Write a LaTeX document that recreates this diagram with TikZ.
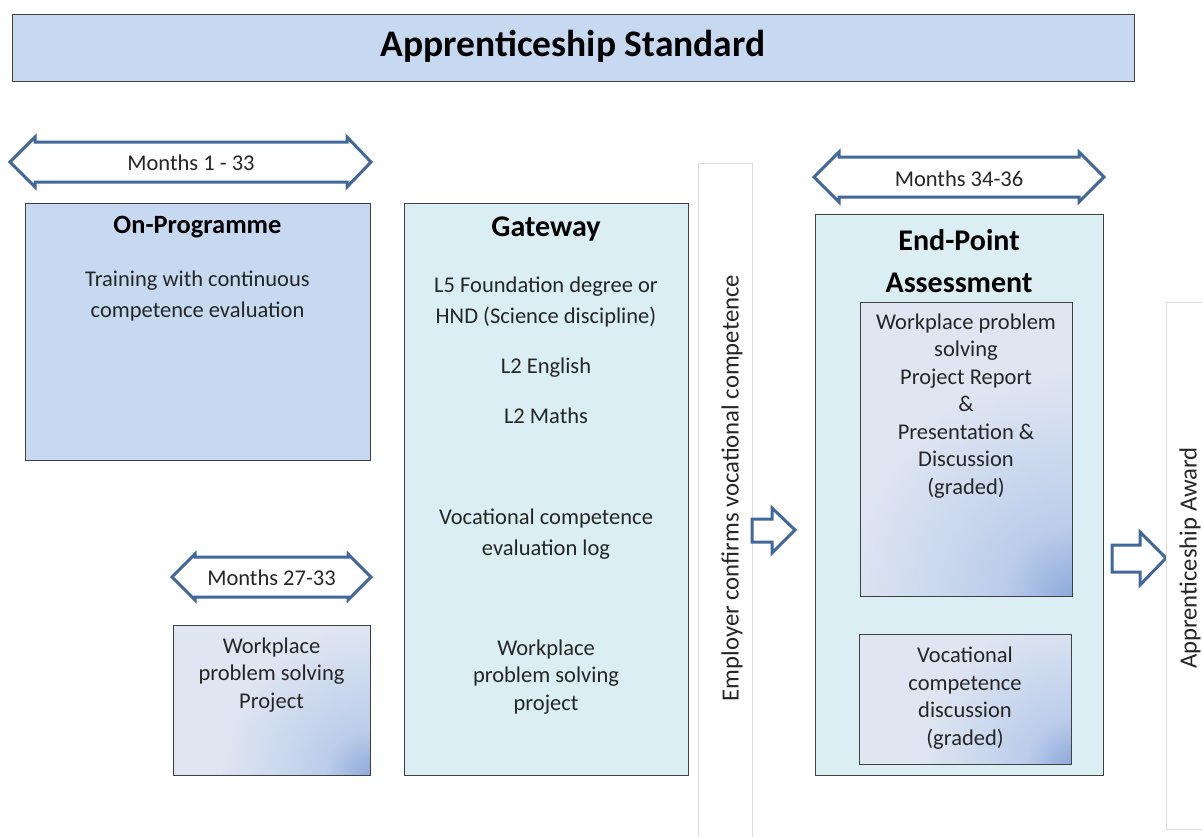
\documentclass[tikz,border=0pt]{standalone}
\usepackage{fontspec}
\setmainfont{Carlito}
\definecolor{hdr}{HTML}{C6D9F1}
\definecolor{gate}{HTML}{DAEEF3}
\definecolor{arr}{HTML}{41689A}
\definecolor{txt}{HTML}{262626}
\definecolor{glowA}{HTML}{DFE6F2}
\definecolor{glowB}{HTML}{8EAADB}
\definecolor{glowM}{HTML}{BCCDEA}
\definecolor{colb}{HTML}{DCDCDC}
\definecolor{boxb}{HTML}{404040}
\pgfdeclareradialshading{glowS}{\pgfpoint{0bp}{0bp}}{color(0bp)=(glowB); color(45bp)=(glowM); color(150bp)=(glowA); color(300bp)=(glowA)}
\pgfdeclareradialshading{glowL}{\pgfpoint{0bp}{0bp}}{color(0bp)=(glowB); color(70bp)=(glowM); color(225bp)=(glowA); color(380bp)=(glowA)}
\begin{document}
\begin{tikzpicture}[x=1pt,y=-1pt,
  box/.style={draw=boxb,line width=1pt,inner sep=0pt,outer sep=0pt},
  glowbox/.style={box,fill=glowA,path picture={\node[inner sep=0pt,outer sep=0pt] at (path picture bounding box.south east) {\pgfuseshading{#1}};}},
  col/.style={draw=colb,line width=0.8pt,fill=white},
  body/.style={text=txt,font=\fontsize{22.5}{27.5}\selectfont,align=center,inner sep=0pt},
  bodywide/.style={text=txt,font=\fontsize{22.5}{31}\selectfont,align=center,inner sep=0pt},
  side/.style={text=txt,font=\fontsize{24.7}{30}\selectfont,inner sep=0pt,rotate=90},
  head/.style={font=\fontsize{26.4}{30}\selectfont\bfseries,inner sep=0pt,align=center},
  bighead/.style={font=\fontsize{30}{42}\selectfont\bfseries,inner sep=0pt,align=center},
  darrow/.style={draw=arr,line width=3pt,fill=white,line join=miter},
  barrow/.style={draw=arr,line width=3pt,fill=white,line join=miter}]
\useasboundingbox (0,0) rectangle (1202,836);
% title
\node[box,fill=hdr,minimum width=1122pt,minimum height=67pt] (title) at (573,47.5) {};
\node[font=\fontsize{37.5}{42}\selectfont\bfseries] (titletext) at (573,46) {Apprenticeship Standard};
% months 1-33
\draw[darrow] (10,162) -- (35,137) -- (35,142) -- (347,142) -- (347,137) -- (371,162)
  -- (347,187) -- (347,182) -- (35,182) -- (35,187) -- cycle;
\node[body] (m1) at (191,163) {Months 1 - 33};
% on-programme
\node[box,fill=hdr,minimum width=345pt,minimum height=257pt] (onprog) at (197.5,331.5) {};
\node[head] (onprogh) at (197.5,227) {On-Programme};
\node[bodywide] (onprogt) at (197.5,296) {Training with continuous\\competence evaluation};
% months 27-33
\draw[darrow] (172,577) -- (195,554) -- (195,557) -- (348,557) -- (348,554) -- (371,577)
  -- (348,600) -- (348,597) -- (195,597) -- (195,600) -- cycle;
\node[body] (m2) at (271.5,578) {Months 27-33};
% workplace project
\node[glowbox=glowS,minimum width=197pt,minimum height=150pt] (wps) at (271.5,700) {};
\node[body] (wpst) at (271.5,675) {Workplace\\problem solving\\Project};
% gateway
\node[box,fill=gate,minimum width=284pt,minimum height=572pt] (gate) at (546,489) {};
\node[bighead] (gateh) at (546,229) {Gateway};
\node[bodywide] (g1) at (546,302) {L5 Foundation degree or\\HND (Science discipline)};
\node[body] (g2) at (546,368) {L2 English};
\node[body] (g3) at (546,416) {L2 Maths};
\node[bodywide] (g4) at (546,534) {Vocational competence\\evaluation log};
\node[body] (g5) at (546,677) {Workplace\\problem solving\\project};
% employer column
\draw[col] (698,845) -- (698,163) -- (752,163) -- (752,845);
\node[side] (emp) at (732,488) {Employer confirms vocational competence};
% block arrow 1
\draw[barrow] (752,519) -- (772,519) -- (772,508) -- (795,530) -- (772,553) -- (772,542) -- (752,542) -- cycle;
% months 34-36
\draw[darrow] (814,177) -- (839,152) -- (839,157) -- (1079,157) -- (1079,152) -- (1104,177)
  -- (1079,202) -- (1079,197) -- (839,197) -- (839,202) -- cycle;
\node[body] (m3) at (959,179) {Months 34-36};
% EPA
\node[box,fill=gate,minimum width=288pt,minimum height=561pt] (epa) at (959,494.5) {};
\node[bighead] (epah) at (959,261) {End-Point\\Assessment};
\node[glowbox=glowL,minimum width=212pt,minimum height=294pt] (in1) at (966,449) {};
\node[body] (in1t) at (966,406) {Workplace problem\\solving\\Project Report\\\&\\Presentation \&\\Discussion\\(graded)};
\node[glowbox=glowS,minimum width=212pt,minimum height=130pt] (in2) at (965,699) {};
\node[body] (in2t) at (965,698) {Vocational\\competence\\discussion\\(graded)};
% block arrow 2
\draw[barrow] (1112,545) -- (1140,545) -- (1140,532) -- (1166,558) -- (1140,585) -- (1140,572) -- (1112,572) -- cycle;
% award column
\draw[col] (1215,829) -- (1166,829) -- (1166,302) -- (1215,302);
\node[side] (award) at (1190,558) {Apprenticeship Award};
\end{tikzpicture}
\end{document}
